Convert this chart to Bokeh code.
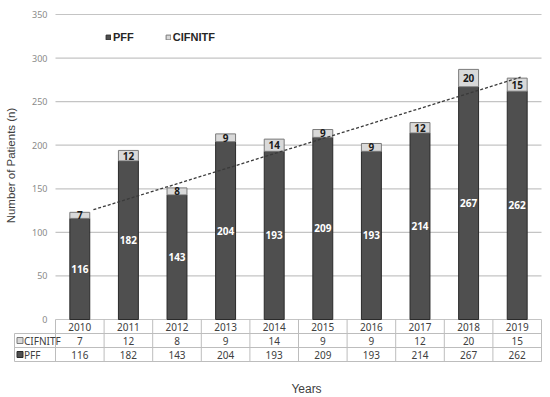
import math
from bokeh.plotting import figure
from bokeh.models import Range1d, Legend, LegendItem, ColumnDataSource
from bokeh.core.properties import value
from bokeh.embed import file_html
from bokeh.resources import INLINE

# ---------------- data ----------------
years = ["2010", "2011", "2012", "2013", "2014", "2015", "2016", "2017", "2018", "2019"]
pff = [116, 182, 143, 204, 193, 209, 193, 214, 267, 262]
cifnitf = [7, 12, 8, 9, 14, 9, 9, 12, 20, 15]
y_ticks = [0, 50, 100, 150, 200, 250, 300, 350]
series_names = ["PFF", "CIFNITF"]
# dashed trend line (category units, patients)
trend_x = [0.78, 9.57]
trend_y = [126, 278]

# ---------------- layout constants (pixels) ----------------
W, H = 550, 397
FRAME_L, FRAME_R = 55, 541          # plot area left / right edge
Y_TOP_PX, Y_ZERO_PX = 14, 319       # pixel rows of 350 and 0
n = len(years)
PX = (FRAME_R - FRAME_L) / n        # pixels per category
PY = (Y_ZERO_PX - Y_TOP_PX) / 350.0  # pixels per patient


def vx(px):
    return (px - FRAME_L) / PX


def vy(py):
    return 350 - (py - Y_TOP_PX) / PY


DARK = "#4f4f4f"
DARK_LINE = "#2a2a2a"
LIGHT = "#d9d9d9"
LIGHT_LINE = "#7a7a7a"
GRID = "#c4c4c4"
TBL = "#bdbdbd"
TXT = "#404040"

xpos = [i + 0.5 for i in range(n)]
src = ColumnDataSource(dict(
    x=xpos,
    pff=pff,
    cifnitf=cifnitf,
    pff_mid=[v / 2 for v in pff],
    cif_mid=[a + b / 2 for a, b in zip(pff, cifnitf)],
    pff_txt=[str(v) for v in pff],
    cif_txt=[str(v) for v in cifnitf],
    years=years,
))

p = figure(width=W, height=H,
           x_range=Range1d(vx(0), vx(W)), y_range=Range1d(vy(H), vy(0)),
           output_backend="svg", toolbar_location=None,
           min_border_left=0, min_border_right=0, min_border_top=0, min_border_bottom=0,
           x_axis_location=None, y_axis_location=None)
p.outline_line_color = None
p.grid.visible = False

# gridlines and y tick labels
p.segment(x0=[0] * len(y_ticks), y0=y_ticks, x1=[n] * len(y_ticks), y1=y_ticks,
          line_color=GRID, line_width=1.2)
p.text(x=[vx(47)] * len(y_ticks), y=y_ticks, text=[str(t) for t in y_ticks],
       text_font=value("Noto Sans"), text_font_size="9px", text_color="#8a8a8a",
       text_align="right", text_baseline="middle")
p.text(x=[vx(10)], y=[vy(165)], text=["Number of Patients (n)"], angle=math.pi / 2,
       text_font=value("Liberation Sans"), text_font_size="11.5px", text_color=TXT,
       text_align="center", text_baseline="middle")

# bars
rs = p.vbar_stack(["pff", "cifnitf"], x="x", width=0.41, source=src,
                  fill_color=[DARK, LIGHT], line_color=[DARK_LINE, LIGHT_LINE],
                  line_width=1)

p.line(trend_x, trend_y, line_dash="3 2", line_color="#3a3a3a", line_width=1.3)

p.text(x="x", y="pff_mid", text="pff_txt", source=src,
       text_font=value("Noto Sans"), text_font_style="bold", text_font_size="10px",
       text_color="white", text_align="center", text_baseline="middle")
p.text(x="x", y="cif_mid", text="cif_txt", source=src,
       text_font=value("Noto Sans"), text_font_style="bold", text_font_size="10px",
       text_color="#1a1a1a", text_align="center", text_baseline="middle")

legend = Legend(items=[LegendItem(label=series_names[0], renderers=[rs[0]]),
                       LegendItem(label=series_names[1], renderers=[rs[1]])],
                orientation="horizontal", location=(105, H - 43),
                glyph_width=6, glyph_height=6, label_standoff=2, spacing=31,
                padding=0, margin=0, label_height=12,
                border_line_color=None, background_fill_alpha=0,
                label_text_font="Liberation Sans", label_text_font_style="bold",
                label_text_font_size="11px", label_text_color="#262626")
p.add_layout(legend)

# ---------------- data table ----------------
rows_px = [Y_ZERO_PX, 333, 347, 361]
rows = [vy(r) for r in rows_px]
hdr_left = vx(14)
cols = list(range(n + 1))
p.segment(x0=cols, y0=[rows[0]] * (n + 1), x1=cols, y1=[rows[3]] * (n + 1),
          line_color=TBL, line_width=1)
p.segment(x0=[hdr_left], y0=[rows[1]], x1=[hdr_left], y1=[rows[3]],
          line_color=TBL, line_width=1)
p.segment(x0=[hdr_left] * 3, y0=rows[1:], x1=[n] * 3, y1=rows[1:],
          line_color=TBL, line_width=1)

row_mid = [(rows[0] + rows[1]) / 2, (rows[1] + rows[2]) / 2, (rows[2] + rows[3]) / 2]
for col, ym in zip(["years", "cif_txt", "pff_txt"], row_mid):
    p.text(x="x", y=ym, text=col, source=src,
           text_font=value("Noto Sans"), text_font_size="10px", text_color=TXT,
           text_align="center", text_baseline="middle")

sw_x = vx(19.5)
lab_x = vx(23.5)
p.rect(x=[sw_x, sw_x], y=[row_mid[1], row_mid[2]], width=6, height=6,
       width_units="screen", height_units="screen",
       fill_color=[LIGHT, DARK], line_color=[LIGHT_LINE, DARK_LINE], line_width=1)
p.text(x=[lab_x, lab_x], y=[row_mid[1], row_mid[2]], text=[series_names[1], series_names[0]],
       text_font=value("Noto Sans"), text_font_size="10px", text_color=TXT,
       text_align="left", text_baseline="middle")

p.text(x=[vx(306)], y=[vy(388)], text=["Years"],
       text_font=value("Liberation Sans"), text_font_size="12px", text_color=TXT,
       text_align="center", text_baseline="middle")

open("out.html", "w").write(file_html(p, INLINE))
